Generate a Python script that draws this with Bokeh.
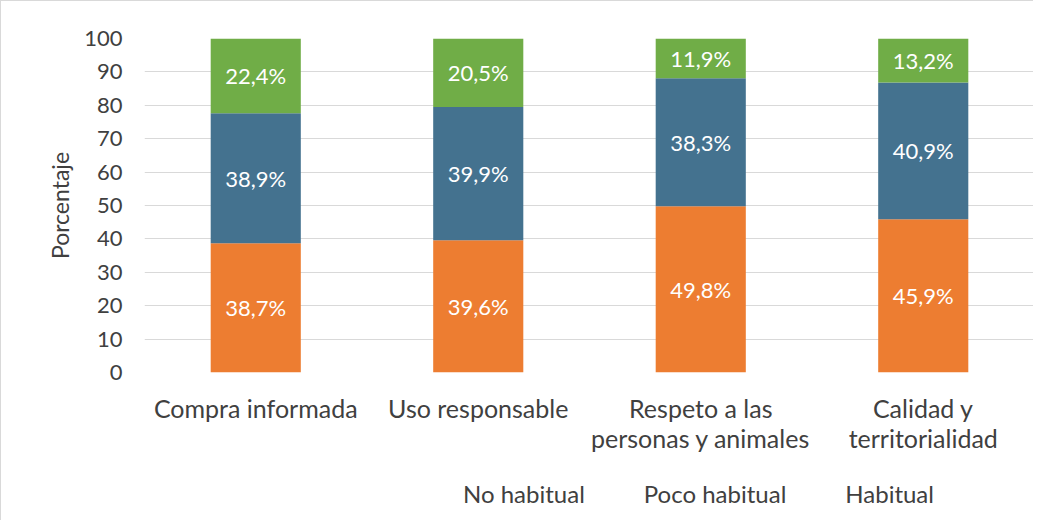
from bokeh.plotting import figure
from bokeh.layouts import column
from bokeh.models import ColumnDataSource, Legend, LegendItem, FactorRange, Range1d
from bokeh.core.properties import value
from bokeh.embed import file_html
from bokeh.resources import INLINE

categories = ["Compra informada", "Uso responsable", "Respeto a las\npersonas y animales", "Calidad y\nterritorialidad"]
series = ["No habitual", "Poco habitual", "Habitual"]
no_habitual = [38.7, 39.6, 49.8, 45.9]
poco_habitual = [38.9, 39.9, 38.3, 40.9]
habitual = [22.4, 20.5, 11.9, 13.2]
colors = ["#ED7D31", "#44728F", "#70AD47"]
y_ticks = [0, 10, 20, 30, 40, 50, 60, 70, 80, 90, 100]

FONT = "Lato"
TXT = "#404040"

src = ColumnDataSource(dict(cat=categories, s0=no_habitual, s1=poco_habitual, s2=habitual))

p = figure(x_range=FactorRange(*categories), y_range=Range1d(0, 100),
           width=1033, height=470, output_backend="svg", toolbar_location=None,
           min_border_left=143, min_border_right=0, min_border_top=37, min_border_bottom=99,
           styles={"border-left": "1px solid #d9d9d9", "border-top": "1px solid #d9d9d9"})
p.outline_line_color = None
p.background_fill_color = "white"

rends = p.vbar_stack(["s0", "s1", "s2"], x="cat", width=0.405, color=colors, source=src, line_color=None)

# data labels
all_vals = [no_habitual, poco_habitual, habitual]
lx, ly, lt = [], [], []
for i, c in enumerate(categories):
    base = 0
    for vals in all_vals:
        v = vals[i]
        lx.append(c)
        ly.append(base + v / 2)
        lt.append(f"{v:.1f}%".replace(".", ","))
        base += v
p.text(x=lx, y=ly, text=lt, text_color="white", text_align="center", text_baseline="middle",
       text_font=value(FONT), text_font_size="22px")

# axes
p.yaxis.ticker = y_ticks
p.yaxis.axis_line_color = None
p.yaxis.major_tick_line_color = None
p.yaxis.minor_tick_line_color = None
p.yaxis.major_label_text_font = FONT
p.yaxis.major_label_text_font_size = "22px"
p.yaxis.major_label_text_color = TXT
p.yaxis.major_label_standoff = 16
p.yaxis.axis_label = "Porcentaje"
p.yaxis.axis_label_text_font = FONT
p.yaxis.axis_label_text_font_size = "23px"
p.yaxis.axis_label_text_font_style = "normal"
p.yaxis.axis_label_text_color = TXT
p.yaxis.axis_label_standoff = 7

p.xaxis.axis_line_color = None
p.xaxis.major_tick_line_color = None
p.xaxis.minor_tick_line_color = None
p.xaxis.major_label_text_font = FONT
p.xaxis.major_label_text_font_size = "25px"
p.xaxis.major_label_text_line_height = 1.0
p.xaxis.major_label_text_color = TXT
p.xaxis.major_label_standoff = 14

p.xgrid.grid_line_color = None
p.ygrid.grid_line_color = "#d9d9d9"
p.ygrid.grid_line_width = 1

# legend strip below the chart
p2 = figure(x_range=Range1d(0, 1), y_range=Range1d(0, 1), width=1033, height=50,
            output_backend="svg", toolbar_location=None,
            min_border_left=0, min_border_right=0, min_border_top=0, min_border_bottom=0,
            styles={"border-left": "1px solid #d9d9d9"})
p2.outline_line_color = None
p2.axis.visible = False
p2.grid.grid_line_color = None
leg_rends = []
for c in colors:
    leg_rends.append(p2.vbar(x="x", top="top", width=1, color=c, line_color=None,
                             source=ColumnDataSource(dict(x=[], top=[]))))

legend = Legend(items=[LegendItem(label=s, renderers=[r]) for s, r in zip(series, leg_rends)],
                orientation="horizontal", location=(298, 12))
legend.label_text_font = FONT
legend.label_text_font_size = "24px"
legend.label_text_color = TXT
legend.glyph_width = 15
legend.glyph_height = 15
legend.spacing = 38
legend.border_line_color = None
legend.background_fill_alpha = 0
legend.label_standoff = 6
legend.margin = 0
legend.padding = 0
p2.add_layout(legend, "center")

layout = column(p, p2, spacing=0)
open("out.html", "w").write(file_html(layout, INLINE))
